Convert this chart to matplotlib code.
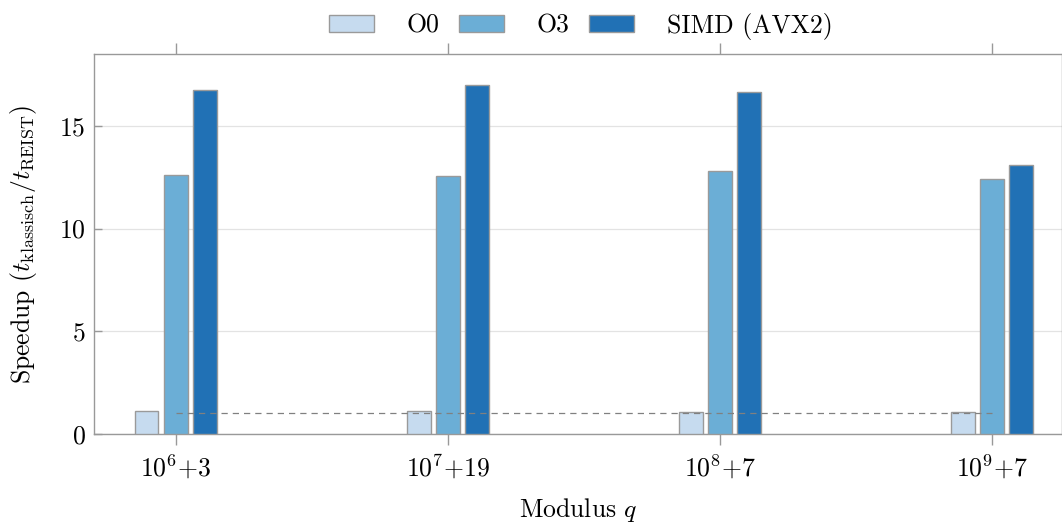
import matplotlib
matplotlib.use("Agg")
import matplotlib.pyplot as plt
import numpy as np

categories = [r"$10^{6}$+3", r"$10^{7}$+19", r"$10^{8}$+7", r"$10^{9}$+7"]
series_names = ["O0", "O3", "SIMD (AVX2)"]
o0 = [1.12, 1.10, 1.07, 1.05]
o3 = [12.6, 12.54, 12.78, 12.43]
simd = [16.76, 17.0, 16.66, 13.1]
colors = ["#c6dbef", "#6baed6", "#2171b5"]
baseline = 1.0

plt.rcParams["font.family"] = "cmr10"
plt.rcParams["mathtext.fontset"] = "cm"
plt.rcParams["axes.formatter.use_mathtext"] = True
plt.rcParams["font.size"] = 18.5

fig = plt.figure(figsize=(10.62, 5.22), dpi=100)
ax = fig.add_axes([94/1062, 88/522, 1 - 94/1062, (434-54)/522])

x = np.arange(len(categories))
w = 0.088
off = 0.107
for i, (vals, name, c) in enumerate(zip([o0, o3, simd], series_names, colors)):
    ax.bar(x + (i - 1) * off, vals, width=w, color=c, edgecolor="#9a9a9a",
           linewidth=1.0, label=name, zorder=3)

ax.plot([x[0], x[-1]], [baseline, baseline], ls=(0, (5, 4)), color="#808080",
        lw=0.9, zorder=4)

ax.set_xlim(-0.30, 3.257)
ax.set_ylim(0, 18.5)
ax.set_xticks(x)
ax.set_xticklabels(categories)
ax.set_yticks([0, 5, 10, 15])
ax.yaxis.grid(True, color="#e3e3e3", lw=0.9, zorder=0)
ax.set_axisbelow(True)

for s in ["left", "bottom", "top", "right"]:
    ax.spines[s].set_color("#999999")
    ax.spines[s].set_linewidth(1.0)

ax.tick_params(axis="x", direction="out", length=8, width=1.0, color="#999999",
               top=True, bottom=True, pad=6)
ax.tick_params(axis="y", direction="in", length=6, width=1.0, color="#999999",
               left=True, right=False, pad=6)

ax.set_xlabel(r"Modulus $q$", labelpad=10)
ax.set_ylabel(r"Speedup ($t_{\mathrm{klassisch}}/t_{\mathrm{REIST}}$)", labelpad=14)

leg = ax.legend(loc="lower center", bbox_to_anchor=(0.503, 1.0), ncol=3,
                frameon=False, handlelength=1.75, handleheight=0.65,
                handletextpad=1.28, columnspacing=0.75, borderaxespad=0.15)

fig.savefig("out.png", dpi=100)
